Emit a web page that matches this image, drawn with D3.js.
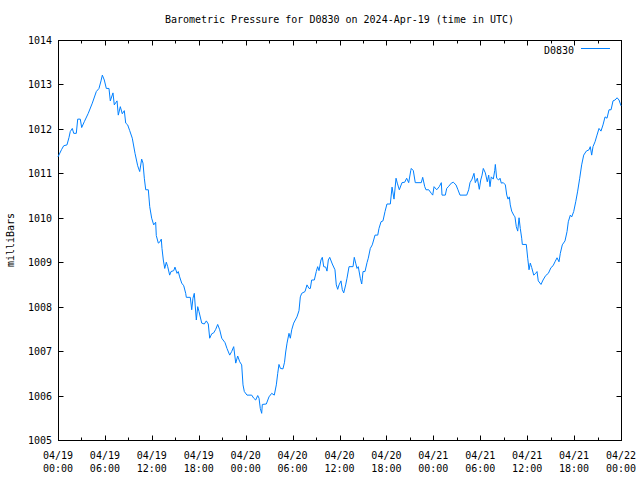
<!DOCTYPE html>
<html>
<head>
<meta charset="utf-8">
<script src="https://cdn.jsdelivr.net/npm/d3@7/dist/d3.min.js"></script>
<style>
  html, body { margin: 0; padding: 0; background: #fff; }
  svg { display: block; }
  text { font-family: "DejaVu Sans Mono", "Liberation Mono", monospace; font-size: 10px; fill: #000; }
</style>
</head>
<body>
<svg id="chart" width="640" height="480"></svg>
<script>
// ---- data (hours since 2024-04-19 00:00 UTC, pressure in mbar) ----
const hours = [
  0.00,0.47,0.73,1.15,1.41,1.57,1.83,2.01,2.34,2.52,2.85,3.03,3.36,3.87,4.39,4.90,5.24,5.50,5.67,5.92,
  6.18,6.52,6.69,7.03,7.20,7.55,7.71,7.97,8.22,8.48,8.66,8.91,9.17,9.50,9.85,10.19,10.45,10.70,10.87,11.04,
  11.22,11.55,11.73,11.98,12.24,12.49,12.57,12.83,13.04,13.21,13.30,13.47,13.65,13.85,14.03,14.28,14.45,14.80,14.96,15.22,
  15.38,15.56,15.82,16.08,16.33,16.41,16.92,17.10,17.26,17.43,17.69,17.87,18.03,18.38,18.71,18.97,19.22,19.40,19.66,19.91,
  20.17,20.42,20.68,20.94,21.36,21.61,21.96,22.21,22.47,22.73,22.98,23.24,23.49,23.66,23.83,24.17,24.77,25.03,25.28,25.54,
  25.71,25.87,26.05,26.13,26.64,26.98,27.33,27.66,27.92,28.10,28.26,28.45,28.77,28.97,29.12,29.29,29.54,29.71,29.89,30.14,
  30.56,30.82,30.99,31.17,31.59,31.84,32.10,32.27,32.44,32.78,33.03,33.21,33.38,33.63,33.80,33.98,34.24,34.40,34.57,34.75,
  35.08,35.42,35.59,35.77,35.94,36.19,36.36,36.54,36.79,36.96,37.22,37.73,37.89,38.07,38.24,38.40,38.66,38.84,39.01,39.26,
  39.52,39.68,39.94,40.19,40.37,40.54,40.89,41.05,41.31,41.56,41.82,42.07,42.50,42.72,42.97,43.23,43.39,43.65,43.99,44.34,
  44.59,44.85,45.11,45.18,45.44,45.69,46.46,46.64,46.90,47.06,47.41,47.74,47.92,48.09,48.43,48.76,49.02,49.11,49.53,49.71,
  49.97,50.30,50.55,50.90,51.15,51.41,52.27,52.52,52.69,52.95,53.20,53.37,53.63,53.88,54.06,54.23,54.39,54.65,54.90,55.08,
  55.25,55.41,55.67,55.85,55.93,56.10,56.36,56.53,56.69,56.95,57.21,57.39,57.55,57.72,57.84,58.02,58.28,58.44,58.61,58.79,
  58.96,59.12,59.30,59.38,59.89,60.07,60.24,60.40,60.58,60.84,61.09,61.26,61.42,61.77,62.03,62.37,62.71,63.05,63.31,63.56,
  63.82,64.07,64.24,64.49,64.84,65.10,65.26,65.52,65.70,65.95,66.21,66.46,66.72,66.97,67.23,67.56,67.91,68.07,68.25,68.42,
  68.68,68.93,69.19,69.44,69.70,69.96,70.21,70.47,70.73,70.98,71.24,71.50,71.75,72.00
];
const pressure = [
  1011.37,1011.54,1011.62,1011.64,1011.81,1011.94,1012.01,1011.90,1011.90,1012.22,1012.22,1012.03,1012.16,1012.35,1012.58,1012.84,1012.91,1013.08,1013.21,1013.10,
  1012.91,1012.91,1012.63,1012.81,1012.54,1012.63,1012.31,1012.50,1012.34,1012.41,1012.13,1012.09,1011.96,1011.79,1011.45,1011.17,1011.04,1011.32,1011.23,1010.89,
  1010.63,1010.63,1010.25,1009.99,1009.84,1009.90,1009.60,1009.43,1009.46,1009.52,1009.31,1009.05,1008.86,1009.00,1008.90,1008.71,1008.79,1008.81,1008.89,1008.75,
  1008.79,1008.67,1008.53,1008.47,1008.30,1008.21,1008.21,1007.93,1008.19,1008.30,1007.70,1008.00,1007.89,1007.63,1007.61,1007.68,1007.61,1007.29,1007.39,1007.41,
  1007.49,1007.60,1007.48,1007.29,1007.19,1007.06,1006.91,1006.99,1007.10,1006.73,1006.89,1006.76,1006.69,1006.24,1006.09,1006.01,1006.01,1005.94,1005.90,1006.00,
  1005.94,1005.71,1005.60,1005.80,1005.81,1005.97,1006.05,1006.01,1006.24,1006.50,1006.70,1006.61,1006.60,1006.75,1006.98,1007.18,1007.40,1007.29,1007.48,1007.63,
  1007.77,1007.91,1008.22,1008.30,1008.34,1008.49,1008.41,1008.41,1008.60,1008.60,1008.79,1008.90,1008.81,1009.05,1009.11,1008.90,1008.89,1008.80,1009.05,1009.11,
  1008.96,1008.83,1008.49,1008.39,1008.49,1008.58,1008.38,1008.31,1008.49,1008.64,1008.90,1008.90,1009.11,1008.98,1008.86,1008.90,1008.64,1008.51,1008.79,1008.79,
  1008.99,1009.09,1009.31,1009.39,1009.50,1009.61,1009.61,1009.76,1009.91,1009.93,1010.14,1010.31,1010.31,1010.69,1010.42,1010.89,1010.78,1010.63,1010.79,1010.80,
  1010.89,1010.79,1011.06,1011.11,1011.06,1010.79,1010.79,1010.91,1010.70,1010.63,1010.63,1010.55,1010.51,1010.70,1010.63,1010.70,1010.79,1010.51,1010.51,1010.66,
  1010.71,1010.78,1010.80,1010.74,1010.63,1010.51,1010.51,1010.63,1010.79,1010.87,1011.00,1010.79,1010.89,1010.64,1010.85,1010.96,1011.11,1011.01,1010.81,1010.96,
  1010.70,1010.92,1010.87,1011.06,1011.20,1010.89,1010.85,1010.89,1010.78,1010.79,1010.74,1010.51,1010.42,1010.47,1010.29,1010.15,1010.06,1010.02,1009.80,1009.70,
  1010.00,1009.76,1009.54,1009.40,1009.40,1009.09,1008.83,1008.98,1008.88,1008.71,1008.75,1008.79,1008.58,1008.50,1008.60,1008.70,1008.75,1008.88,1008.92,1009.01,
  1009.10,1009.01,1009.20,1009.39,1009.48,1009.69,1009.91,1010.06,1010.02,1010.14,1010.36,1010.60,1010.89,1011.19,1011.41,1011.50,1011.53,1011.60,1011.41,1011.60,
  1011.71,1011.86,1012.01,1011.95,1012.09,1012.27,1012.24,1012.43,1012.43,1012.63,1012.65,1012.70,1012.65,1012.52
];
const yTicks = [1005, 1006, 1007, 1008, 1009, 1010, 1011, 1012, 1013, 1014];
const seriesName = "D0830";
const titleText = "Barometric Pressure for D0830 on 2024-Apr-19 (time in UTC)";
const yLabel = "milliBars";

// ---- layout ----
const svg = d3.select("#chart");
const mLeft = 58, mRight = 621, mTop = 40, mBottom = 440;
const t0 = Date.UTC(2024, 3, 19, 0, 0);
const t1 = Date.UTC(2024, 3, 22, 0, 0);
const x = d3.scaleUtc().domain([new Date(t0), new Date(t1)]).range([mLeft, mRight]);
const y = d3.scaleLinear().domain([1005, 1014]).range([mBottom, mTop]);

const data = hours.map((h, i) => ({ t: new Date(t0 + h * 3600e3), v: pressure[i] }));

// frame
svg.append("rect")
  .attr("x", mLeft + 0.5).attr("y", mTop + 0.5)
  .attr("width", mRight - mLeft).attr("height", mBottom - mTop)
  .attr("fill", "none").attr("stroke", "#000").attr("stroke-width", 1);

const majorX = d3.utcHour.every(6).range(new Date(t0), new Date(t1 + 1));
const minorX = d3.utcHour.every(3).range(new Date(t0), new Date(t1 + 1)).filter(d => d.getUTCHours() % 6 !== 0);

const tickG = svg.append("g").attr("stroke", "#000").attr("stroke-width", 1);
function xt(d, len) {
  const px = Math.round(x(d)) + 0.5;
  tickG.append("line").attr("x1", px).attr("x2", px).attr("y1", mBottom + 0.5).attr("y2", mBottom + 0.5 - len);
  tickG.append("line").attr("x1", px).attr("x2", px).attr("y1", mTop + 0.5).attr("y2", mTop + 0.5 + len);
}
majorX.forEach(d => xt(d, 5));
minorX.forEach(d => xt(d, 3));
yTicks.forEach(v => {
  const py = Math.round(y(v)) + 0.5;
  tickG.append("line").attr("x1", mLeft + 0.5).attr("x2", mLeft + 5.5).attr("y1", py).attr("y2", py);
  tickG.append("line").attr("x1", mRight + 0.5).attr("x2", mRight - 4.5).attr("y1", py).attr("y2", py);
});

// y labels
svg.append("g").selectAll("text").data(yTicks).join("text")
  .attr("x", mLeft - 6).attr("y", d => y(d) + 4)
  .attr("text-anchor", "end")
  .text(d => d);

// x labels
const fmtD = d3.utcFormat("%m/%d"), fmtT = d3.utcFormat("%H:%M");
const xl = svg.append("g").selectAll("text").data(majorX).join("text")
  .attr("text-anchor", "middle");
xl.append("tspan").attr("x", d => x(d)).attr("y", 459).text(d => fmtD(d));
xl.append("tspan").attr("x", d => x(d)).attr("y", 472).text(d => fmtT(d));

// title
svg.append("text").attr("x", (mLeft + mRight) / 2).attr("y", 23)
  .attr("text-anchor", "middle").text(titleText);

// y axis title
svg.append("text").attr("transform", "translate(14,240) rotate(-90)")
  .attr("text-anchor", "middle").text(yLabel);

// line
const line = d3.line().x(d => x(d.t)).y(d => y(d.v));
svg.append("path").datum(data)
  .attr("d", line)
  .attr("fill", "none")
  .attr("stroke", "#0080ff")
  .attr("stroke-width", 1);

// legend
svg.append("text").attr("x", 574).attr("y", 54).attr("text-anchor", "end").text(seriesName);
svg.append("line").attr("x1", 581).attr("x2", 610).attr("y1", 48.5).attr("y2", 48.5)
  .attr("stroke", "#0080ff").attr("stroke-width", 1);
</script>
</body>
</html>
